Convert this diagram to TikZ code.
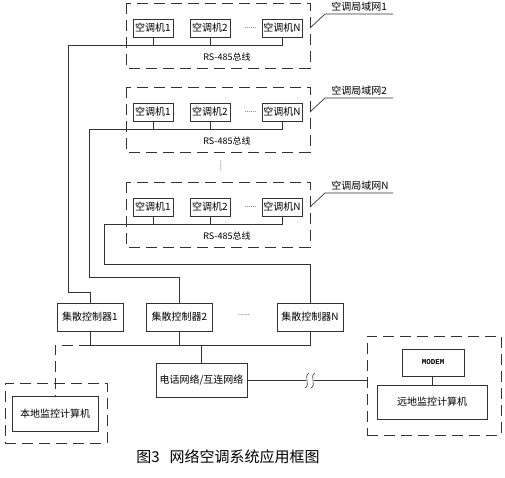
\documentclass[tikz,border=0pt]{standalone}
\usepackage{fontspec}
\setmainfont{Noto Sans CJK SC}
\setmonofont{Liberation Mono}

\begin{document}
\begin{tikzpicture}[x=1pt, y=-1pt, line width=0.7pt, color=black!80,
    every node/.style={font=\fontsize{10}{12}\selectfont, text=black},
    acunit/.style={draw, inner sep=1pt, minimum width=40pt, minimum height=18pt},
    ctrlbox/.style={draw, inner sep=1pt, minimum width=66pt, minimum height=28pt},
    pcbox/.style={draw, inner sep=1pt, minimum height=34pt},
    dotsnode/.style={inner sep=0pt, font=\fontsize{7}{8}\selectfont},
    lanframe/.style={dash pattern=on 11pt off 6pt}]
\useasboundingbox (0,0) rectangle (505,477);
% Draw air conditioner LANs
\foreach \n/\yy/\lx/\nm in {1/3/68/1, 2/87/89/2, 3/182/104/N}{
    \draw[lanframe] (126,\yy) rectangle (310,{\yy+65});
    \node[acunit] (u\n-1) at (153,{\yy+25}) {空调机1};
    \node[acunit] (u\n-2) at (210,{\yy+25}) {空调机2};
    \node[acunit] (u\n-N) at (282,{\yy+25}) {空调机N};
    \node[dotsnode] (dots\n) at (250.5,{\yy+25}) {......};
    \coordinate (bus\n) at (\lx,{\yy+42});
    \draw (bus\n) -| (u\n-N.south);
    \draw (u\n-1.south) -- (u\n-1.south |- bus\n);
    \draw (u\n-2.south) -- (u\n-2.south |- bus\n);
    \node[font=\fontsize{9}{11}\selectfont] (rs\n) at (227,{\yy+54}) {RS-485总线};
    \draw (310,{\yy+25}) -- (325,{\yy+11}) -- (393,{\yy+11});
    \node[anchor=south west, inner sep=1pt] (lan\n) at (330,{\yy+10}) {空调局域网\nm};
}
\node[dotsnode, rotate=90] (vdots) at (221,166) {......};
% Draw controllers
\node[ctrlbox] (ctrl1) at (90,317) {集散控制器1};
\node[ctrlbox] (ctrl2) at (179.5,317) {集散控制器2};
\node[ctrlbox] (ctrlN) at (310,317) {集散控制器N};
\node[dotsnode] (cdots) at (244,315) {......};
% Draw links from LANs to controllers
\coordinate (turn1) at (68,292);
\coordinate (turn2) at (89,277);
\coordinate (turn3) at (104,264);
\draw (bus1) -- (turn1) -| (ctrl1.north);
\draw (bus2) -- (turn2) -| (ctrl2.north);
\draw (bus3) -- (turn3) -| (ctrlN.north);
% Draw network and computers
\node[pcbox, minimum width=91pt] (phone) at (201.5,380) {电话网络/互连网络};
\node[draw, lanframe, minimum width=102pt, minimum height=60pt] (local) at (56,413) {};
\node[pcbox, minimum width=86pt, minimum height=35pt] (localpc) at (55,413.5) {本地监控计算机};
\node[draw, lanframe, minimum width=134pt, minimum height=99pt] (remote) at (434,385.5) {};
\node[draw, minimum width=62pt, minimum height=27pt, font=\fontsize{7.5}{9}\ttfamily\bfseries] (modem) at (433,362.5) {MODEM};
\node[pcbox, minimum width=110pt] (remotepc) at (432,402) {远地监控计算机};
% Draw bottom bus
\coordinate (cbL) at (90,345);
\draw (ctrl1.south) -- (cbL) -- (cbL -| ctrlN) -- (ctrlN.south);
\draw (ctrl2.south) -- (ctrl2.south |- cbL);
\draw (phone.north) -- (phone.north |- cbL);
\draw[lanframe] (cbL) -| (localpc.north);
\draw (modem.south) -- (modem.south -| remotepc.north) -- (remotepc.north);
% Draw line break
\coordinate (brkL) at (306,380);
\coordinate (brkR) at (314,380);
\draw (phone.east) -- (brkL);
\draw (brkR) -- (brkR -| remote.west);
\foreach \bx in {305,311}
    \draw[line width=0.6pt] (\bx+4,373) .. controls (\bx-2,376) and (\bx+6,385) .. (\bx,388);
% Draw caption
\node[font=\fontsize{15}{18}\selectfont] (caption) at (228,457) {图3\hspace{10pt}网络空调系统应用框图};
\end{tikzpicture}
\end{document}
